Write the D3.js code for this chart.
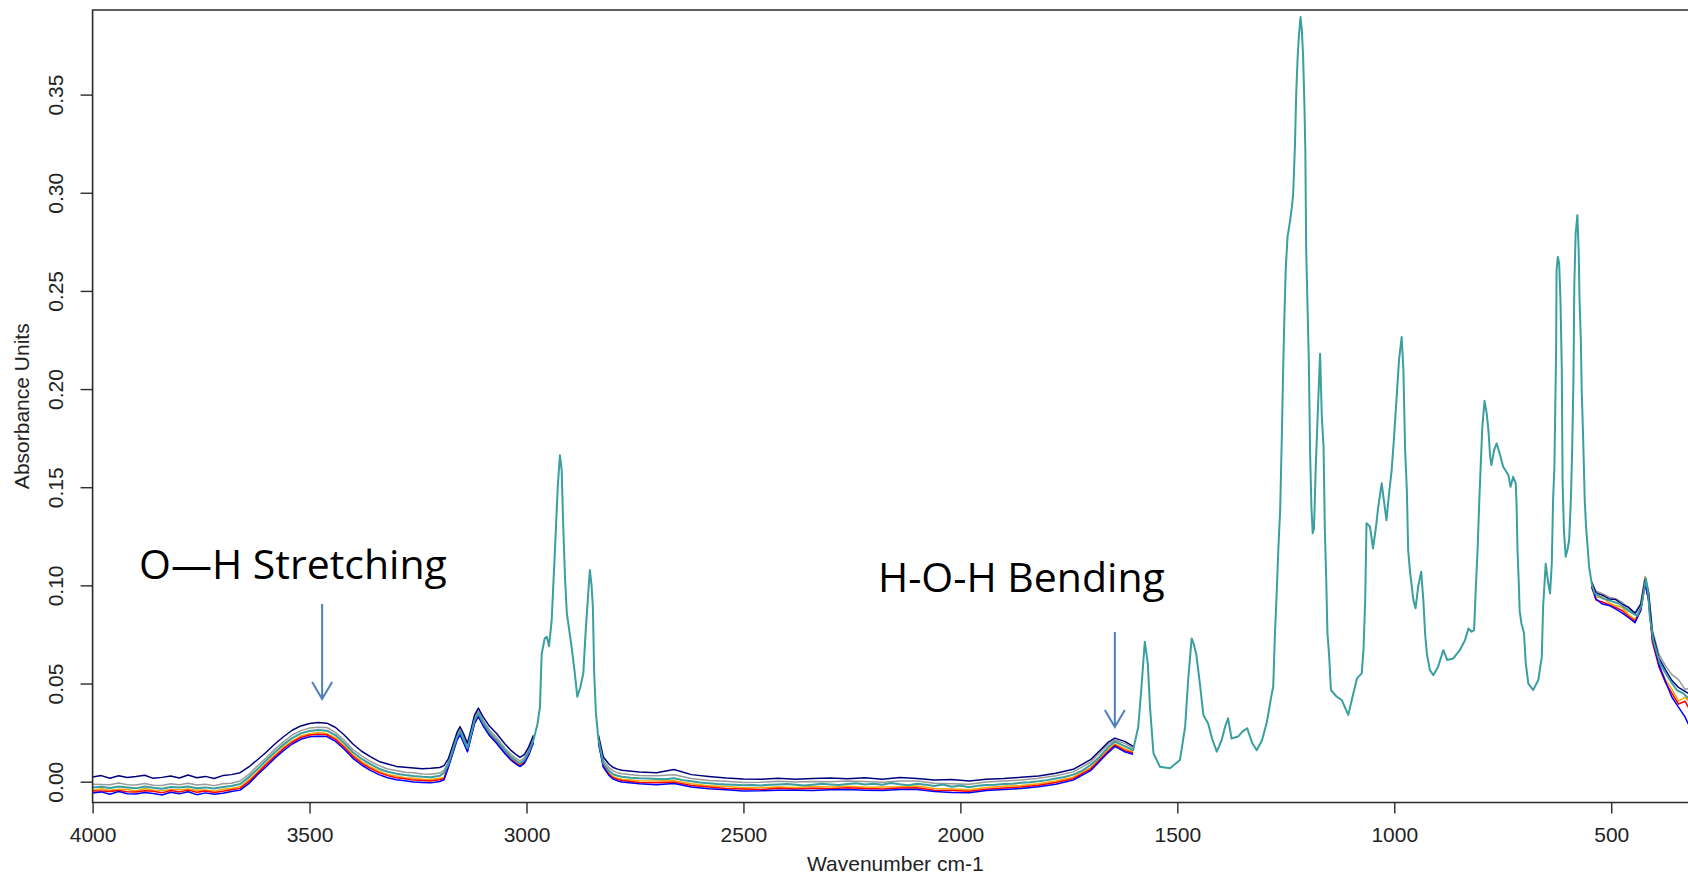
<!DOCTYPE html>
<html><head><meta charset="utf-8">
<script src="https://cdn.jsdelivr.net/npm/d3@7"></script>
<style>body{margin:0;background:#fff;} svg{display:block;background:#fff;}</style>
</head><body>
<svg id="chart" width="1688" height="878"></svg>
<script>
// ---------------- DATA ----------------
const xTicks = [4000, 3500, 3000, 2500, 2000, 1500, 1000, 500];
const yTicks = [0, 0.05, 0.10, 0.15, 0.20, 0.25, 0.30, 0.35];
const xTitle = "Wavenumber cm-1";
const yTitle = "Absorbance Units";

// main (top-most, teal) spectrum: [wavenumber, absorbance]
const mainSpectrum = [
[4000,-0.0030],[3980,-0.0026],[3960,-0.0032],[3940,-0.0024],[3920,-0.0029],[3900,-0.0034],[3880,-0.0025],[3860,-0.0031],[3840,-0.0036],[3820,-0.0027],
[3800,-0.0030],[3780,-0.0024],[3760,-0.0033],[3740,-0.0029],[3720,-0.0035],[3700,-0.0027],[3680,-0.0022],[3660,-0.0012],[3640,0.0022],[3620,0.0065],
[3600,0.0108],[3580,0.0150],[3560,0.0189],[3540,0.0222],[3520,0.0246],[3500,0.0258],[3480,0.0263],[3460,0.0260],[3440,0.0236],[3420,0.0196],
[3400,0.0150],[3380,0.0116],[3360,0.0089],[3340,0.0066],[3320,0.0051],[3300,0.0041],[3280,0.0034],[3260,0.0029],[3240,0.0025],[3220,0.0023],[3200,0.0030],
[3190,0.0045],[3180,0.0090],[3170,0.0160],[3160,0.0228],[3153,0.0255],[3145,0.0215],[3136,0.0170],[3128,0.0240],[3120,0.0310],[3111,0.0348],
[3100,0.0300],[3085,0.0250],[3069,0.0212],[3050,0.0160],[3035,0.0125],[3023,0.0105],[3015,0.0094],[3005,0.0110],[2995,0.0150],[2984,0.0212],
[2975,0.0290],[2969,0.0380],[2965,0.0650],[2958,0.0730],[2953,0.0738],[2948,0.0690],[2942,0.0820],[2934,0.1200],[2928,0.1500],[2923,0.1663],
[2919,0.1590],[2915,0.1280],[2911,0.1027],[2907,0.0857],[2896,0.0687],[2889,0.0560],[2883,0.0433],[2876,0.0480],[2869,0.0552],[2863,0.0790],
[2858,0.0950],[2854,0.1078],[2850,0.1000],[2847,0.0890],[2844,0.0552],[2840,0.0348],[2834,0.0212],[2823,0.0094],[2810,0.0055],[2800,0.0038],
[2790,0.0030],[2780,0.0025],
[2760,0.0020],[2740,0.0017],[2720,0.0016],[2700,0.0014],[2680,0.0012],[2660,0.0018],[2640,0.0008],[2620,0.0002],[2600,-0.0004],[2580,-0.0008],
[2560,-0.0012],[2540,-0.0014],[2520,-0.0016],[2500,-0.0018],[2480,-0.0017],[2460,-0.0019],[2440,-0.0016],[2420,-0.0014],[2400,-0.0012],[2380,-0.0016],
[2360,-0.0020],[2340,-0.0015],[2320,-0.0011],[2300,-0.0014],[2280,-0.0017],[2260,-0.0012],[2240,-0.0008],[2220,-0.0014],[2200,-0.0010],[2180,-0.0016],
[2160,-0.0007],[2140,-0.0013],[2120,-0.0018],[2100,-0.0011],[2080,-0.0015],[2060,-0.0022],[2040,-0.0014],[2020,-0.0026],[2000,-0.0019],[1980,-0.0028],
[1960,-0.0021],[1940,-0.0017],[1920,-0.0015],[1900,-0.0012],[1880,-0.0010],[1860,-0.0006],[1840,-0.0003],[1820,0.0002],[1800,0.0008],[1780,0.0016],
[1760,0.0024],[1740,0.0036],[1720,0.0055],[1700,0.0085],[1680,0.0125],[1660,0.0175],[1644,0.0204],[1620,0.0180],[1602,0.0160],
[1590,0.0280],[1582,0.0500],[1575,0.0713],[1568,0.0600],[1563,0.0380],[1555,0.0145],[1540,0.0076],[1517,0.0068],[1494,0.0110],[1482,0.0280],
[1475,0.0518],[1467,0.0730],[1462,0.0700],[1456,0.0645],[1448,0.0500],[1440,0.0340],[1429,0.0297],[1420,0.0220],[1409,0.0153],[1398,0.0210],
[1390,0.0280],[1383,0.0323],[1375,0.0220],[1360,0.0230],[1350,0.0255],[1339,0.0272],[1328,0.0200],[1317,0.0160],[1305,0.0210],[1294,0.0300],
[1283,0.0440],[1279,0.0484],[1275,0.0756],[1271,0.0960],[1267,0.1197],[1263,0.1383],[1259,0.1774],[1256,0.2110],[1253,0.2386],[1250,0.2620],
[1246,0.2775],[1240,0.2860],[1236,0.2928],[1233,0.2996],[1229,0.3233],[1226,0.3505],[1223,0.3675],[1220,0.3793],[1216,0.3895],[1213,0.3827],
[1210,0.3690],[1207,0.3437],[1205,0.3216],[1203,0.2707],[1200,0.2427],[1197,0.2147],[1194,0.1680],[1191,0.1400],[1188,0.1265],[1185,0.1290],
[1181,0.1600],[1177,0.1840],[1171,0.2180],[1167,0.1860],[1163,0.1706],[1160,0.1280],[1157,0.1044],[1154,0.0756],[1150,0.0637],[1146,0.0467],
[1133,0.0433],[1121,0.0416],[1106,0.0340],[1098,0.0416],[1086,0.0526],[1075,0.0552],[1071,0.0670],[1067,0.0925],[1064,0.1316],[1056,0.1300],
[1049,0.1188],[1042,0.1300],[1037,0.1400],[1029,0.1520],[1024,0.1434],[1018,0.1332],[1012,0.1468],[1006,0.1587],[1001,0.1740],[995,0.1944],
[989,0.2150],[983,0.2265],[979,0.2100],[975,0.1690],[971,0.1485],[968,0.1180],[964,0.1078],[956,0.0925],[951,0.0883],[945,0.0993],
[938,0.1070],[933,0.0925],[929,0.0756],[925,0.0654],[918,0.0569],[910,0.0543],[899,0.0586],[887,0.0670],[878,0.0620],[864,0.0628],
[849,0.0670],[837,0.0721],[829,0.0780],[822,0.0764],[816,0.0772],[812,0.0993],[808,0.1180],[804,0.1434],[801,0.1600],[797,0.1808],
[792,0.1940],[787,0.1876],[783,0.1790],[779,0.1655],[776,0.1613],[770,0.1689],[764,0.1723],[757,0.1672],[749,0.1604],[737,0.1562],
[732,0.1502],[726,0.1553],[720,0.1520],[718,0.1400],[716,0.1180],[713,0.1010],[711,0.0870],[707,0.0806],[701,0.0756],[697,0.0603],
[691,0.0500],[680,0.0467],[668,0.0518],[660,0.0637],[657,0.0890],[651,0.1110],[645,0.1010],[641,0.0959],[637,0.1110],[634,0.1434],
[631,0.1600],[627,0.2198],[626,0.2605],[623,0.2673],[620,0.2640],[617,0.2453],[614,0.2113],[612,0.1520],[609,0.1280],[605,0.1146],
[601,0.1180],[597,0.1230],[593,0.1434],[590,0.1689],[587,0.2062],[585,0.2538],[582,0.2792],[578,0.2886],[575,0.2707],[573,0.2453],
[570,0.2249],[568,0.1994],[565,0.1774],[563,0.1604],[561,0.1434],[558,0.1298],[555,0.1214],[551,0.1095],[545,0.1010],[538,0.0959],
[520,0.0934],[500,0.0920],[480,0.0905],[460,0.0870],[440,0.0845],[430,0.0900],[420,0.1036],[415,0.0959],[411,0.0840],[403,0.0721],
[388,0.0603],[365,0.0518],[349,0.0467],[334,0.0450],[320,0.0420],[300,0.0400]
];

// wavenumbers at which the other (underlying) replicate spectra are visible; 2900 and 1000 are gaps
const bandWavenumber = [
4000,3980,3960,3940,3920,3900,3880,3860,3840,3820,3800,3780,3760,3740,3720,3700,3680,3660,3640,3620,
3600,3580,3560,3540,3520,3500,3480,3460,3440,3420,3400,3380,3360,3340,3320,3300,3280,3260,3240,3220,3200,
3190,3180,3170,3160,3153,3145,3136,3128,3120,3111,3100,3085,3069,3050,3035,3023,3015,3005,2995,2984,
2900,
2834,2823,2810,2800,2790,
2780,2740,2700,2660,2620,2580,2540,2500,2460,2420,2380,2340,2300,2260,2220,2180,2140,2100,2060,2020,
1980,1940,1900,1860,1820,1780,1740,1700,1660,1644,1620,1602,
1000,
545,535,520,505,490,475,460,445,432,422,414,405,390,375,360,345,330,315,305
];
const seriesNavy = [
0.0024,0.0031,0.0018,0.0030,0.0021,0.0026,0.0033,0.0017,0.0022,0.0029,0.0019,0.0034,0.0020,0.0027,0.0016,0.0031,0.0036,0.0046,0.0075,0.0112,
0.0150,0.0192,0.0229,0.0262,0.0284,0.0296,0.0302,0.0298,0.0276,0.0238,0.0192,0.0155,0.0128,0.0103,0.0090,0.0078,0.0074,0.0070,0.0066,0.0068,0.0072,
0.0082,0.0118,0.0185,0.0252,0.0280,0.0244,0.0196,0.0265,0.0338,0.0375,0.0330,0.0282,0.0245,0.0193,0.0158,0.0136,0.0124,0.0138,0.0176,0.0236,
null,
0.0236,0.0126,0.0090,0.0072,0.0064,
0.0058,0.0049,0.0046,0.0062,0.0036,0.0027,0.0019,0.0014,0.0012,0.0018,0.0013,0.0016,0.0019,0.0015,0.0020,0.0012,0.0021,0.0016,0.0009,0.0011,
0.0004,0.0012,0.0016,0.0022,0.0029,0.0043,0.0063,0.0112,0.0200,0.0222,0.0204,0.0180,
null,
0.1015,0.0962,0.0950,0.0931,0.0928,0.0904,0.0889,0.0856,0.0902,0.1030,0.0962,0.0760,0.0630,0.0570,0.0515,0.0480,0.0460,0.0440,0.0430
];
const seriesGray = [
-0.0013,-0.0014,-0.0016,-0.0007,-0.0015,-0.0017,-0.0009,-0.0018,-0.0019,-0.0010,-0.0016,-0.0008,-0.0017,-0.0013,-0.0020,-0.0011,-0.0008,0.0004,0.0036,0.0081,
0.0122,0.0166,0.0203,0.0238,0.0260,0.0273,0.0277,0.0276,0.0250,0.0211,0.0164,0.0132,0.0103,0.0082,0.0065,0.0057,0.0048,0.0045,0.0039,0.0038,0.0044,
0.0058,0.0101,0.0172,0.0241,0.0267,0.0228,0.0182,0.0252,0.0322,0.0360,0.0313,0.0262,0.0225,0.0172,0.0138,0.0117,0.0106,0.0122,0.0162,0.0224,
null,
0.0224,0.0110,0.0072,0.0055,0.0046,
0.0040,0.0031,0.0030,0.0035,0.0016,0.0006,0.0002,-0.0004,-0.0003,0.0002,-0.0002,0.0001,0.0000,0.0004,0.0001,-0.0003,0.0003,0.0004,-0.0008,-0.0010,
-0.0013,-0.0002,0.0003,0.0009,0.0017,0.0030,0.0050,0.0099,0.0190,0.0212,0.0194,0.0170,
null,
0.1020,0.0970,0.0958,0.0940,0.0932,0.0915,0.0880,0.0862,0.0910,0.1045,0.0975,0.0770,0.0650,0.0590,0.0545,0.0520,0.0470,0.0480,0.0455
];
const seriesOrange = [
-0.0043,-0.0036,-0.0045,-0.0038,-0.0040,-0.0047,-0.0035,-0.0044,-0.0046,-0.0040,-0.0041,-0.0037,-0.0044,-0.0042,-0.0048,-0.0038,-0.0035,-0.0026,0.0008,0.0050,
0.0094,0.0136,0.0176,0.0207,0.0233,0.0244,0.0250,0.0245,0.0222,0.0182,0.0137,0.0102,0.0076,0.0053,0.0037,0.0029,0.0020,0.0017,0.0012,0.0011,0.0017,
0.0020,0.0082,0.0152,0.0220,0.0247,0.0207,0.0161,0.0232,0.0302,0.0340,0.0292,0.0242,0.0204,0.0151,0.0117,0.0097,0.0086,0.0102,0.0143,0.0205,
null,
0.0204,0.0084,0.0043,0.0025,0.0017,
0.0012,0.0005,0.0003,0.0005,-0.0010,-0.0021,-0.0025,-0.0031,-0.0030,-0.0027,-0.0029,-0.0025,-0.0027,-0.0023,-0.0028,-0.0027,-0.0026,-0.0022,-0.0035,-0.0037,
-0.0041,-0.0030,-0.0023,-0.0019,-0.0011,0.0004,0.0023,0.0072,0.0162,0.0192,0.0167,0.0150,
null,
0.1000,0.0938,0.0942,0.0910,0.0897,0.0889,0.0851,0.0826,0.0880,0.1040,0.0962,0.0720,0.0590,0.0520,0.0470,0.0410,0.0430,0.0395,0.0380
];
const seriesRed = [
-0.0048,-0.0047,-0.0050,-0.0045,-0.0051,-0.0053,-0.0046,-0.0049,-0.0057,-0.0045,-0.0052,-0.0043,-0.0054,-0.0047,-0.0055,-0.0049,-0.0041,-0.0034,0.0000,0.0043,
0.0087,0.0128,0.0168,0.0201,0.0225,0.0238,0.0242,0.0239,0.0214,0.0175,0.0129,0.0095,0.0068,0.0046,0.0031,0.0020,0.0015,0.0008,0.0006,0.0003,0.0010,
0.0016,0.0078,0.0148,0.0216,0.0243,0.0203,0.0158,0.0228,0.0298,0.0336,0.0288,0.0238,0.0200,0.0148,0.0113,0.0093,0.0082,0.0098,0.0139,0.0201,
null,
0.0200,0.0080,0.0038,0.0020,0.0011,
0.0006,-0.0004,-0.0005,-0.0003,-0.0019,-0.0027,-0.0035,-0.0037,-0.0040,-0.0033,-0.0037,-0.0034,-0.0036,-0.0031,-0.0035,-0.0037,-0.0032,-0.0031,-0.0044,-0.0045,
-0.0049,-0.0038,-0.0032,-0.0027,-0.0018,-0.0004,0.0015,0.0064,0.0154,0.0186,0.0158,0.0146,
null,
0.0990,0.0925,0.0915,0.0902,0.0888,0.0872,0.0842,0.0818,0.0870,0.1005,0.0930,0.0710,0.0585,0.0505,0.0450,0.0395,0.0410,0.0350,0.0330
];
const seriesBlue = [
-0.0058,-0.0052,-0.0064,-0.0050,-0.0061,-0.0063,-0.0055,-0.0060,-0.0068,-0.0054,-0.0062,-0.0051,-0.0066,-0.0057,-0.0064,-0.0059,-0.0050,-0.0043,-0.0010,0.0035,
0.0076,0.0120,0.0158,0.0192,0.0216,0.0229,0.0232,0.0230,0.0205,0.0165,0.0119,0.0085,0.0058,0.0036,0.0020,0.0010,0.0005,-0.0002,-0.0004,-0.0006,0.0001,
0.0010,0.0074,0.0144,0.0212,0.0239,0.0199,0.0152,0.0224,0.0294,0.0332,0.0284,0.0234,0.0196,0.0144,0.0108,0.0088,0.0077,0.0093,0.0135,0.0198,
null,
0.0196,0.0074,0.0032,0.0013,0.0004,
-0.0002,-0.0010,-0.0015,-0.0009,-0.0027,-0.0036,-0.0041,-0.0047,-0.0046,-0.0043,-0.0044,-0.0045,-0.0041,-0.0040,-0.0043,-0.0045,-0.0040,-0.0040,-0.0050,-0.0055,
-0.0056,-0.0045,-0.0040,-0.0035,-0.0026,-0.0013,0.0008,0.0056,0.0147,0.0180,0.0151,0.0140,
null,
0.0995,0.0930,0.0905,0.0898,0.0880,0.0860,0.0835,0.0810,0.0875,0.1010,0.0925,0.0725,0.0595,0.0510,0.0430,0.0380,0.0330,0.0260,0.0210
];

const annotationLabels = ["O\u2014H Stretching", "H-O-H Bending"];
const annotationTextWn = [3893, 2190];
const annotationTextAbs = [0.1033, 0.0967];
const arrowWn = [3471, 1644];
const arrowTopAbs = [0.0905, 0.0763];
const arrowTipAbs = [0.0421, 0.0279];

// ---------------- DRAW ----------------
const svg = d3.select("#chart");
const plotLeft = 92.6, plotRight = 1698, plotTop = 10, plotBottom = 802.5;
const x = d3.scaleLinear().domain([4000, 300]).range([plotLeft, plotRight]);
const y = d3.scaleLinear().domain([-0.0106, 0.3931]).range([plotBottom, plotTop]);

svg.append("rect").attr("width", 1688).attr("height", 878).attr("fill", "#fff");

svg.append("defs").append("clipPath").attr("id", "clip")
  .append("rect").attr("x", plotLeft).attr("y", plotTop)
  .attr("width", plotRight - plotLeft).attr("height", plotBottom - plotTop);

const plot = svg.append("g").attr("clip-path", "url(#clip)");

const bandLine = d3.line()
  .defined(d => d[1] != null)
  .x(d => x(d[0])).y(d => y(d[1]));

const bands = [
  {vals: seriesGray, color: "#9a9a9a"},
  {vals: seriesOrange, color: "#ffa500"},
  {vals: seriesRed, color: "#ff0000"},
  {vals: seriesBlue, color: "#0000ff"},
  {vals: seriesNavy, color: "#00007f"}
];
bands.forEach(b => {
  plot.append("path")
    .datum(bandWavenumber.map((w, i) => [w, b.vals[i]]))
    .attr("d", bandLine)
    .attr("fill", "none")
    .attr("stroke", b.color)
    .attr("stroke-width", 1.5)
    .attr("stroke-linejoin", "round");
});

const mainLine = d3.line().x(d => x(d[0])).y(d => y(d[1]));
plot.append("path")
  .datum(mainSpectrum)
  .attr("d", mainLine)
  .attr("fill", "none")
  .attr("stroke", "#3a9f9f")
  .attr("stroke-width", 2)
  .attr("stroke-linejoin", "round");

// axes
const axisColor = "#2a2a2a";
const font = "'Liberation Sans', Arial, sans-serif";

const yAxis = d3.axisLeft(y).tickValues(yTicks).tickFormat(d3.format(".2f"))
  .tickSize(12).tickSizeOuter(0);
const gy = svg.append("g").attr("transform", `translate(${plotLeft},0)`).call(yAxis);
gy.select(".domain").remove();
gy.selectAll(".tick line").attr("stroke", axisColor).attr("stroke-width", 1.4);
gy.selectAll(".tick text")
  .attr("x", null).attr("dy", null)
  .attr("text-anchor", "middle")
  .attr("transform", `translate(${63 - plotLeft},0) rotate(-90)`)
  .attr("fill", "#222")
  .style("font-family", font).style("font-size", "21px");

const xAxis = d3.axisBottom(x).tickValues(xTicks).tickFormat(d3.format("d"))
  .tickSize(11).tickSizeOuter(0);
const gx = svg.append("g").attr("transform", `translate(0,${plotBottom})`).call(xAxis);
gx.select(".domain").remove();
gx.selectAll(".tick line").attr("stroke", axisColor).attr("stroke-width", 1.4);
gx.selectAll(".tick text")
  .attr("y", 842 - plotBottom).attr("dy", null)
  .attr("fill", "#222")
  .style("font-family", font).style("font-size", "21px");

// box (top, left, bottom)
svg.append("path")
  .attr("d", `M1690,${plotTop}H${plotLeft}V${plotBottom}H1690`)
  .attr("fill", "none").attr("stroke", axisColor).attr("stroke-width", 1.6);

// titles
svg.append("text")
  .attr("x", (plotLeft + plotRight) / 2).attr("y", 871)
  .attr("text-anchor", "middle").attr("fill", "#222")
  .style("font-family", font).style("font-size", "21px")
  .text(xTitle);
svg.append("text")
  .attr("transform", `translate(29,${(plotTop + plotBottom) / 2}) rotate(-90)`)
  .attr("text-anchor", "middle").attr("fill", "#222")
  .style("font-family", font).style("font-size", "21px")
  .text(yTitle);

// annotations
annotationLabels.forEach((lab, i) => {
  svg.append("text")
    .attr("x", x(annotationTextWn[i])).attr("y", y(annotationTextAbs[i]))
    .attr("fill", "#000")
    .style("font-family", "'Open Sans', sans-serif").style("font-size", "41px")
    .text(lab);
  const ax = x(arrowWn[i]), ay0 = y(arrowTopAbs[i]), ay1 = y(arrowTipAbs[i]);
  svg.append("path")
    .attr("d", `M${ax},${ay0}V${ay1}M${ax - 10},${ay1 - 17}L${ax},${ay1}L${ax + 10},${ay1 - 17}`)
    .attr("fill", "none").attr("stroke", "#4f7fbd").attr("stroke-width", 2);
});
</script>
</body></html>
